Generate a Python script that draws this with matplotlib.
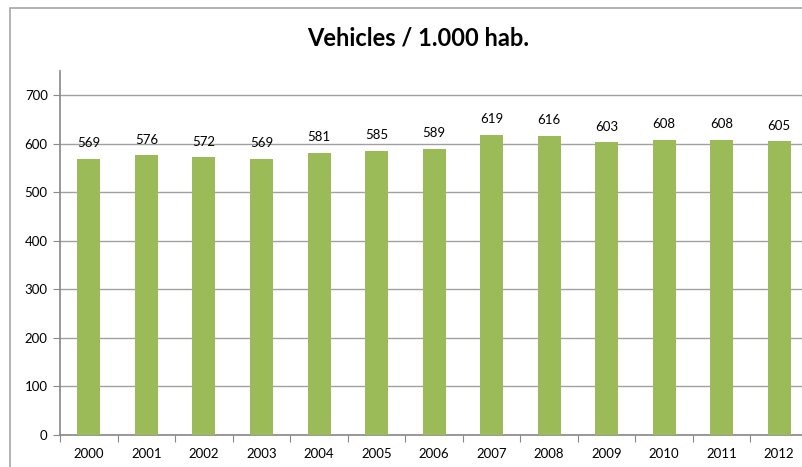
import matplotlib.pyplot as plt
from matplotlib.patches import Rectangle

years = ['2000', '2001', '2002', '2003', '2004', '2005', '2006',
         '2007', '2008', '2009', '2010', '2011', '2012']
vehicles = [569, 576, 572, 569, 581, 585, 589, 619, 616, 603, 608, 608, 605]

plt.rcParams['font.family'] = ['Lato', 'DejaVu Sans']

fig = plt.figure(figsize=(8.03, 4.67), dpi=100)
ax = fig.add_axes([0.075, 0.0685, 0.931, 0.7795])

# chart frame
fig.patches.append(Rectangle((10 / 803, -0.1), 2, 1.1 - 8 / 467,
                             transform=fig.transFigure, fill=False,
                             edgecolor='#a6a6a6', linewidth=1.2))

x = range(len(years))
ax.bar(x, vehicles, width=0.4, color='#9bbb59', zorder=3)
for i, v in zip(x, vehicles):
    ax.annotate(str(v), (i, v), xytext=(0, 7), textcoords='offset points',
                ha='center', va='bottom', fontsize=9.5, color='#000000')

ax.set_xlim(-0.5, len(years) - 0.5)
ax.set_ylim(0, 750)
ax.set_yticks(range(0, 701, 100))
ax.set_xticks([i + 0.5 for i in range(-1, len(years))], minor=False)
ax.set_xticklabels([])
ax.set_xticks(list(x), minor=True)
ax.set_xticklabels(years, minor=True)
ax.tick_params(axis='x', which='major', length=5, color='#888888', direction='out')
ax.tick_params(axis='x', which='minor', length=0, labelsize=9.5, pad=9)
ax.tick_params(axis='y', length=5, color='#888888', labelsize=9.5, pad=4)

ax.grid(axis='y', color='#a0a0a0', linewidth=1, zorder=0)
for side in ('top', 'right'):
    ax.spines[side].set_visible(False)
for side in ('left', 'bottom'):
    ax.spines[side].set_color('#888888')
    ax.spines[side].set_linewidth(1.2)

fig.text(418 / 803, 1 - 38 / 467, 'Vehicles / 1.000 hab.', ha='center',
         va='center', fontsize=17, fontweight='bold')

fig.savefig('out.png', dpi=100)
